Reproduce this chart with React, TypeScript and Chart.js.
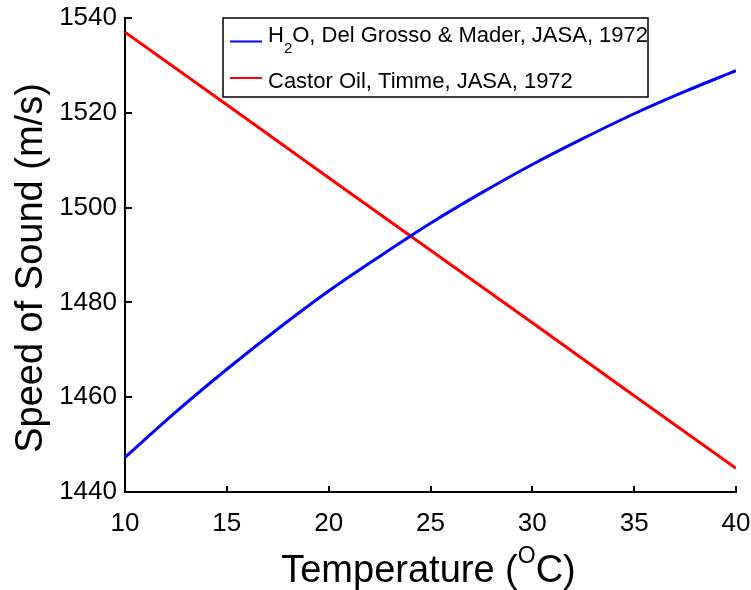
import React, { useEffect, useRef } from "react";
import { Chart, registerables } from "chart.js";

Chart.register(...registerables);

// ---- data ----
const waterTemps = [10, 12.5, 15, 17.5, 20, 22.5, 25, 27.5, 30, 32.5, 35, 37.5, 40];
const waterSpeed = [1447.3, 1456.9, 1465.9, 1474.4, 1482.4, 1489.7, 1496.7, 1503.1, 1509.1, 1514.6, 1519.8, 1524.5, 1528.9];
const castorTemps = [10, 15, 20, 25, 30, 35, 40];
const castorSpeed = [1537.0, 1521.7, 1506.3, 1491.0, 1475.7, 1460.3, 1445.0];
const xTicks = [10, 15, 20, 25, 30, 35, 40];
const yTicks = [1440, 1460, 1480, 1500, 1520, 1540];

const waterLabelMain = "H";
const waterLabelSub = "2";
const waterLabelRest = "O, Del Grosso & Mader, JASA, 1972";
const castorLabel = "Castor Oil, Timme, JASA, 1972";
const xTitleMain = "Temperature (";
const xTitleSup = "O";
const xTitleEnd = "C)";
const yTitle = "Speed of Sound (m/s)";

const FONT = "'Liberation Sans', Arial, Helvetica, sans-serif";
const BLUE = "#0000ff";
const RED = "#ff0000";

const decorPlugin = {
  id: "decor",
  afterDraw(chart: any) {
    const ctx = chart.ctx;
    const area = chart.chartArea;
    const xs = chart.scales.x;
    const ys = chart.scales.y;
    ctx.save();
    // inward ticks
    ctx.strokeStyle = "#000";
    ctx.lineWidth = 2;
    ctx.beginPath();
    yTicks.forEach((v) => {
      const py = Math.round(ys.getPixelForValue(v));
      ctx.moveTo(area.left, py);
      ctx.lineTo(area.left + 7, py);
    });
    xTicks.forEach((v) => {
      const px = Math.round(xs.getPixelForValue(v));
      ctx.moveTo(px, area.bottom);
      ctx.lineTo(px, area.bottom - 6);
    });
    ctx.stroke();

    // x title with superscript
    ctx.fillStyle = "#000";
    ctx.textBaseline = "alphabetic";
    ctx.textAlign = "left";
    const mainFont = `38px ${FONT}`;
    const supFont = `23px ${FONT}`;
    ctx.font = mainFont;
    const w1 = ctx.measureText(xTitleMain).width;
    const w3 = ctx.measureText(xTitleEnd).width;
    ctx.font = supFont;
    const w2 = ctx.measureText(xTitleSup).width;
    const total = w1 + w2 + w3;
    const cx = (area.left + area.right) / 2 - 2;
    let tx = cx - total / 2;
    const baseY = area.bottom + 90;
    ctx.font = mainFont;
    ctx.fillText(xTitleMain, tx, baseY);
    tx += w1;
    ctx.font = supFont;
    ctx.fillText(xTitleSup, tx, baseY - 19);
    tx += w2;
    ctx.font = mainFont;
    ctx.fillText(xTitleEnd, tx, baseY);

    // y title rotated
    ctx.save();
    ctx.translate(42, (area.top + area.bottom) / 2 + 13);
    ctx.rotate(-Math.PI / 2);
    ctx.textAlign = "center";
    ctx.font = mainFont;
    ctx.fillText(yTitle, 0, 0);
    ctx.restore();

    // legend box
    const lx = area.left + 98;
    const ly = area.top;
    const lw = 425;
    const lh = 79;
    ctx.fillStyle = "#fff";
    ctx.fillRect(lx, ly, lw, lh);
    ctx.strokeStyle = "#000";
    ctx.lineWidth = 1.5;
    ctx.strokeRect(lx, ly, lw, lh);

    ctx.lineWidth = 2;
    ctx.strokeStyle = BLUE;
    ctx.beginPath();
    ctx.moveTo(lx + 7, ly + 23.5);
    ctx.lineTo(lx + 39, ly + 23.5);
    ctx.stroke();
    ctx.strokeStyle = RED;
    ctx.beginPath();
    ctx.moveTo(lx + 7, ly + 60);
    ctx.lineTo(lx + 39, ly + 60);
    ctx.stroke();

    ctx.fillStyle = "#000";
    ctx.textAlign = "left";
    const legFont = `22px ${FONT}`;
    const subFont = `15px ${FONT}`;
    let gx = lx + 45;
    ctx.font = legFont;
    ctx.fillText(waterLabelMain, gx, ly + 24);
    gx += ctx.measureText(waterLabelMain).width;
    ctx.font = subFont;
    ctx.fillText(waterLabelSub, gx, ly + 35);
    gx += ctx.measureText(waterLabelSub).width;
    ctx.font = legFont;
    ctx.fillText(waterLabelRest, gx, ly + 24);
    ctx.fillText(castorLabel, lx + 45, ly + 70);
    ctx.restore();
  },
};

export default function App() {
  const ref = useRef<HTMLCanvasElement | null>(null);
  useEffect(() => {
    if (!ref.current) return;
    const chart = new Chart(ref.current, {
      type: "line",
      data: {
        datasets: [
          {
            label: waterLabelMain + waterLabelSub + waterLabelRest,
            data: waterTemps.map((t, i) => ({ x: t, y: waterSpeed[i] })),
            borderColor: BLUE,
            borderWidth: 3,
            pointRadius: 0,
            cubicInterpolationMode: "monotone",
            fill: false,
          },
          {
            label: castorLabel,
            data: castorTemps.map((t, i) => ({ x: t, y: castorSpeed[i] })),
            borderColor: RED,
            borderWidth: 3,
            pointRadius: 0,
            tension: 0,
            fill: false,
          },
        ],
      },
      options: {
        responsive: false,
        animation: false,
        layout: { padding: { top: 18, right: 15, left: 0, bottom: 0 } },
        plugins: { legend: { display: false }, tooltip: { enabled: false } },
        scales: {
          x: {
            type: "linear",
            min: 10,
            max: 40,
            afterFit: (s: any) => {
              s.height = 98;
              s.paddingLeft = 0;
              s.paddingRight = 0;
              s.paddingTop = 0;
              s.paddingBottom = 0;
            },
            afterBuildTicks: (s: any) => {
              s.ticks = xTicks.map((v) => ({ value: v }));
            },
            grid: { display: false },
            border: { display: true, color: "#000", width: 2 },
            ticks: {
              color: "#000",
              font: { family: FONT, size: 26 },
              padding: 8,
              maxRotation: 0,
              callback: (v: any) => String(v),
            },
          },
          y: {
            type: "linear",
            min: 1440,
            max: 1540,
            afterFit: (s: any) => {
              s.width = 125;
              s.paddingLeft = 0;
              s.paddingRight = 0;
              s.paddingTop = 0;
              s.paddingBottom = 0;
            },
            afterBuildTicks: (s: any) => {
              s.ticks = yTicks.map((v) => ({ value: v }));
            },
            grid: { display: false },
            border: { display: true, color: "#000", width: 2 },
            ticks: {
              color: "#000",
              font: { family: FONT, size: 26 },
              padding: 0,
              callback: (v: any) => String(v),
            },
          },
        },
      },
      plugins: [decorPlugin],
    });
    return () => chart.destroy();
  }, []);
  return (
    <div style={{ position: "fixed", left: 0, top: 0, width: 751, height: 590, background: "#fff" }}>
      <canvas ref={ref} width={751} height={590} style={{ width: 751, height: 590, display: "block" }} />
    </div>
  );
}
